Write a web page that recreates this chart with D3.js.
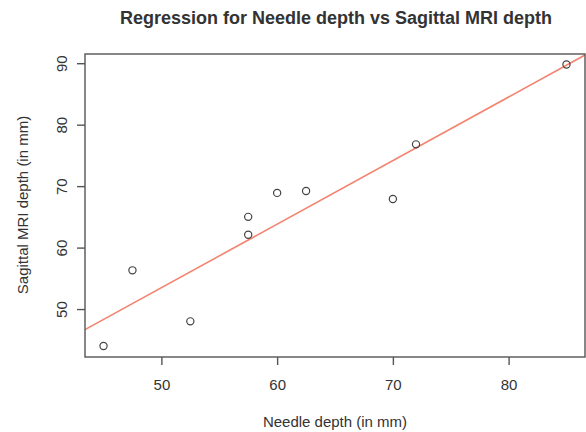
<!DOCTYPE html>
<html>
<head>
<meta charset="utf-8">
<script src="https://cdn.jsdelivr.net/npm/d3@7"></script>
<style>
  body { margin: 0; background: #fff; }
  text { font-family: "Liberation Sans", Arial, sans-serif; fill: #333; }
</style>
</head>
<body>
<svg id="chart" width="586" height="432"></svg>
<script>
// the data
const needleDepth = [45, 47.5, 52.5, 57.5, 57.5, 60, 62.5, 70, 72, 85];
const mriDepth = [44, 56.3, 48, 65, 62.1, 68.9, 69.2, 67.9, 76.8, 89.8];
const xTicks = [50, 60, 70, 80];
const yTicks = [50, 60, 70, 80, 90];

let svg = d3.select("#chart");

// plot region
let x = d3.scaleLinear().domain([43.4, 86.6]).range([85, 585]);
let y = d3.scaleLinear().domain([42.2, 91.5]).range([357, 54]);

// least squares fit, like lm()
let mx = d3.mean(needleDepth), my = d3.mean(mriDepth);
let sxy = d3.sum(needleDepth, (v, i) => (v - mx) * (mriDepth[i] - my));
let sxx = d3.sum(needleDepth, v => (v - mx) * (v - mx));
let slope = sxy / sxx;
let intercept = my - slope * mx;

svg.append("clipPath").attr("id", "plotclip")
  .append("rect")
  .attr("x", x.range()[0]).attr("y", y.range()[1])
  .attr("width", x.range()[1] - x.range()[0])
  .attr("height", y.range()[0] - y.range()[1]);

// regression line
let xd = x.domain();
svg.append("line")
  .attr("clip-path", "url(#plotclip)")
  .attr("x1", x(xd[0])).attr("y1", y(intercept + slope * xd[0]))
  .attr("x2", x(xd[1])).attr("y2", y(intercept + slope * xd[1]))
  .attr("stroke", "#f4846f")
  .attr("stroke-width", 1.6);

// points
svg.append("g")
  .selectAll("circle")
  .data(needleDepth)
  .enter()
  .append("circle")
  .attr("cx", d => x(d))
  .attr("cy", (d, i) => y(mriDepth[i]))
  .attr("r", 3.6)
  .attr("fill", "none")
  .attr("stroke", "#444")
  .attr("stroke-width", 1.2);

// box
svg.append("rect")
  .attr("x", x.range()[0]).attr("y", y.range()[1])
  .attr("width", x.range()[1] - x.range()[0])
  .attr("height", y.range()[0] - y.range()[1])
  .attr("fill", "none")
  .attr("stroke", "#555")
  .attr("stroke-width", 1.4);

// axes
let xAxis = svg.append("g")
  .attr("transform", "translate(0," + y.range()[0] + ")")
  .call(d3.axisBottom(x).tickValues(xTicks).tickSize(8).tickPadding(14));
let yAxis = svg.append("g")
  .attr("transform", "translate(" + x.range()[0] + ",0)")
  .call(d3.axisLeft(y).tickValues(yTicks).tickSize(8).tickPadding(9));

[xAxis, yAxis].forEach(a => {
  a.select(".domain").remove();
  a.selectAll(".tick line").attr("stroke", "#555").attr("stroke-width", 1.4);
  a.selectAll(".tick text").attr("font-size", 15).attr("fill", "#333")
    .attr("font-family", "Liberation Sans, Arial, sans-serif");
});
yAxis.selectAll(".tick text")
  .attr("text-anchor", "middle")
  .attr("x", null).attr("dy", null)
  .attr("transform", "translate(-18,0) rotate(-90)");

// titles
svg.append("text")
  .attr("x", 336).attr("y", 24)
  .attr("text-anchor", "middle")
  .attr("font-size", 18).attr("font-weight", "bold")
  .attr("fill", "#111")
  .text("Regression for Needle depth vs Sagittal MRI depth");

svg.append("text")
  .attr("x", 335).attr("y", 427)
  .attr("text-anchor", "middle")
  .attr("font-size", 15)
  .text("Needle depth (in mm)");

svg.append("text")
  .attr("transform", "translate(28,205) rotate(-90)")
  .attr("text-anchor", "middle")
  .attr("font-size", 15)
  .text("Sagittal MRI depth (in mm)");
</script>
</body>
</html>
